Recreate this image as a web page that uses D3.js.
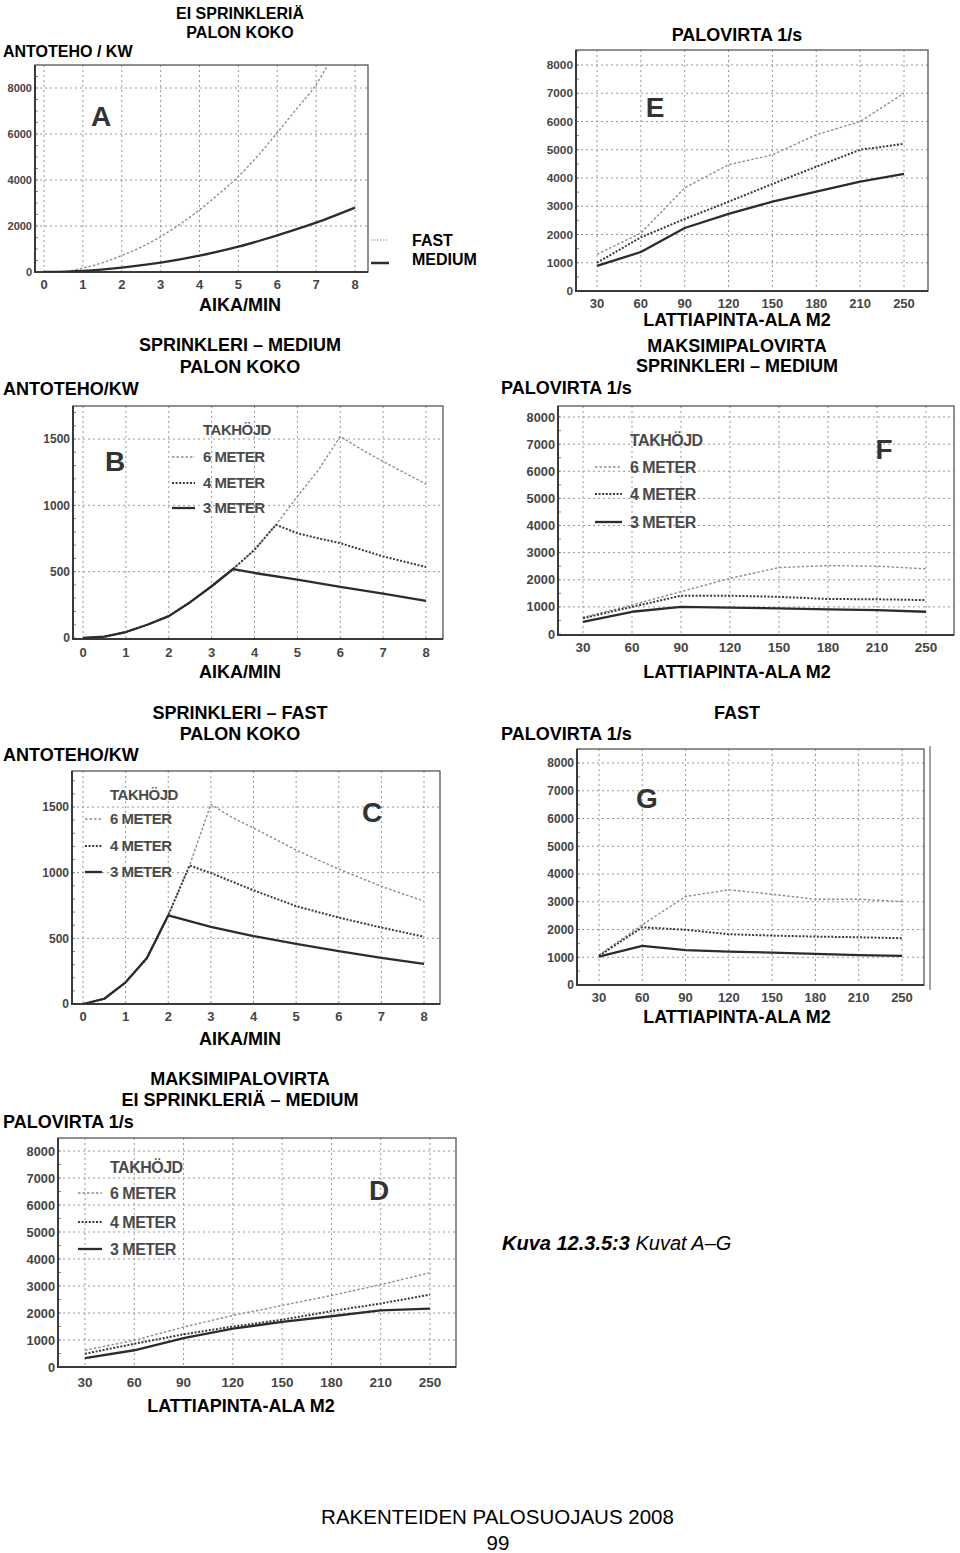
<!DOCTYPE html>
<html><head><meta charset="utf-8">
<script src="https://cdn.jsdelivr.net/npm/d3@7/dist/d3.min.js"></script>
<style>
body{margin:0;background:#fff}
svg{display:block}
text{font-family:"Liberation Sans",Arial,Helvetica,sans-serif}
</style>
</head><body>
<script>
// ---------- DATA ----------
const timeTicks = [0,1,2,3,4,5,6,7,8];
const areaCats  = ["30","60","90","120","150","180","210","250"];
const kwTicksA  = [0,2000,4000,6000,8000];
const kwTicksBC = [0,500,1000,1500];
const flowTicks = [0,1000,2000,3000,4000,5000,6000,7000,8000];
const legendTitle = "TAKHÖJD";
const legendLabels = ["6 METER","4 METER","3 METER"];

// A: ei sprinkleriä, palon koko (kW) vs time (min)
const aFastTime = [0,0.5,1,1.5,2,2.5,3,3.5,4,4.5,5,5.5,6,6.5,7,7.3];
const aFastKW   = [0,15,170,400,720,1080,1540,2080,2700,3400,4150,5050,6060,7100,8150,9000];
const aMedTime  = [0,1,2,3,4,5,6,7,8];
const aMedKW    = [0,50,190,405,710,1100,1595,2145,2800];

// B: sprinkleri – medium
const b6Time = [0,0.5,1,1.5,2,2.5,3,3.5,4,4.5,5,5.5,6,6.5,7,7.5,8];
const b6KW   = [0,10,45,100,165,270,390,520,665,853,1067,1270,1520,1420,1330,1245,1160];
const b4Time = [0,0.5,1,1.5,2,2.5,3,3.5,4,4.5,5,5.5,6,7,8];
const b4KW   = [0,10,45,100,165,270,390,520,665,853,790,750,715,615,535];
const b3Time = [0,0.5,1,1.5,2,2.5,3,3.5,4,5,6,7,8];
const b3KW   = [0,10,45,100,165,270,390,520,490,440,385,335,280];

// C: sprinkleri – fast
const c6Time = [0,0.5,1,1.5,2,2.5,3,3.5,4,5,6,7,8];
const c6KW   = [0,40,165,350,675,1055,1520,1420,1340,1172,1027,896,783];
const c4Time = [0,0.5,1,1.5,2,2.5,3,4,5,6,7,8];
const c4KW   = [0,40,165,350,675,1055,997,866,745,658,582,512];
const c3Time = [0,0.5,1,1.5,2,3,4,5,6,7,8];
const c3KW   = [0,40,165,350,675,587,517,457,402,351,306];

// E: palovirta, ei sprinkleriä (l/s) per floor area
const e6Flow = [1300,2050,3650,4470,4820,5530,6000,7000];
const e4Flow = [1000,1900,2550,3160,3790,4400,5000,5210];
const e3Flow = [890,1380,2230,2730,3160,3520,3870,4150];

// F: maksimipalovirta, sprinkleri – medium
const f6Flow = [610,1070,1560,2050,2450,2520,2500,2400];
const f4Flow = [580,1000,1410,1410,1370,1290,1280,1250];
const f3Flow = [450,820,1000,970,945,910,880,820];

// G: fast
const g6Flow = [1080,2170,3190,3430,3270,3090,3090,3010];
const g4Flow = [1050,2080,1990,1830,1780,1745,1720,1685];
const g3Flow = [1020,1410,1260,1200,1170,1120,1080,1050];

// D: maksimipalovirta, ei sprinkleriä – medium
const d6Flow = [620,990,1480,1910,2280,2650,3050,3490];
const d4Flow = [490,860,1210,1500,1750,2070,2350,2680];
const d3Flow = [330,620,1070,1420,1670,1880,2100,2160];

// ---------- STYLES ----------
const ST = {
  light:  {stroke:"#8c8c8c", width:1.4, dash:"2.5,2"},
  dotted: {stroke:"#3a3a3a", width:2.0, dash:"2,1.6"},
  solid:  {stroke:"#2c2c2c", width:2.3, dash:null}
};
const TICKFONT = '"DejaVu Sans",Verdana,sans-serif';

const W = 960, H = 1553;
const svg = d3.select("body").append("svg").attr("width",W).attr("height",H);
const defs = svg.append("defs");

function txt(x, cy, s, size, opt={}) {
  const t = svg.append("text")
    .attr("x", x).attr("y", cy + 0.358*size)
    .attr("font-size", size)
    .attr("font-weight", opt.weight || "bold")
    .attr("text-anchor", opt.anchor || "start")
    .attr("fill", opt.fill || "#000");
  if (opt.style) t.attr("font-style", opt.style);
  if (opt.ls) t.attr("letter-spacing", opt.ls);
  t.text(s);
  return t;
}

function panel(o) {
  const g = svg.append("g");
  const f = o.frame, x = o.x, y = o.y;
  // grid
  g.selectAll(null).data(o.xTicks).join("line")
    .attr("x1", d=>x(d)).attr("x2", d=>x(d))
    .attr("y1", f.y0).attr("y2", f.y1)
    .attr("stroke","#8a8a8a").attr("stroke-width",0.9).attr("stroke-dasharray","2,3");
  g.selectAll(null).data(o.yTicks.filter(d=>d>0)).join("line")
    .attr("y1", d=>y(d)).attr("y2", d=>y(d))
    .attr("x1", f.x0).attr("x2", f.x1)
    .attr("stroke","#8a8a8a").attr("stroke-width",0.9).attr("stroke-dasharray","2,3");
  // minor ticks on the value axis
  const yMax = y.invert(f.y0);
  g.selectAll(null).data(d3.range(0, yMax, o.minor)).join("line")
    .attr("x1", f.x0).attr("x2", f.x0+3)
    .attr("y1", d=>y(d)).attr("y2", d=>y(d))
    .attr("stroke","#777").attr("stroke-width",0.9);
  // frame
  g.append("rect").attr("x",f.x0).attr("y",f.y0)
    .attr("width",f.x1-f.x0).attr("height",f.y1-f.y0)
    .attr("fill","none").attr("stroke","#555").attr("stroke-width",1.3);
  g.append("path").attr("d",`M${f.x0},${f.y0}V${f.y1}H${f.x1}`)
    .attr("fill","none").attr("stroke","#3a3a3a").attr("stroke-width",2);
  // tick labels
  g.selectAll(null).data(o.yTicks).join("text")
    .attr("x", f.x0-3).attr("y", d=>y(d)).attr("dy","0.36em")
    .attr("text-anchor","end").attr("font-size",o.fy).attr("font-weight","bold")
    .attr("font-family",TICKFONT).attr("fill","#454545")
    .text(d=>d);
  g.selectAll(null).data(o.xTicks).join("text")
    .attr("x", d=>x(d)).attr("y", f.y1 + (o.xLabelOff||12)).attr("dy","0.36em")
    .attr("text-anchor","middle").attr("font-size",o.fx).attr("font-weight","bold")
    .attr("font-family",TICKFONT).attr("fill","#454545")
    .text(d=>d);
  // series
  const cid = "clip-" + o.name;
  defs.append("clipPath").attr("id",cid).append("rect")
    .attr("x",f.x0).attr("y",f.y0).attr("width",f.x1-f.x0).attr("height",f.y1-f.y0);
  const lg = g.append("g").attr("clip-path",`url(#${cid})`);
  o.series.forEach(s=>{
    const pts = d3.zip(s.xs, s.ys);
    const line = d3.line().x(d=>x(d[0])).y(d=>y(d[1])).curve(s.curve || d3.curveLinear);
    lg.append("path").datum(pts).attr("d",line)
      .attr("fill","none").attr("stroke",s.st.stroke).attr("stroke-width",s.st.width)
      .attr("stroke-dasharray",s.st.dash).attr("stroke-linejoin","round");
  });
  // letter
  txt(o.letter.x, o.letter.cy, o.letter.t, 28, {anchor:"middle", fill:"#333"});
  // legend
  if (o.legend) {
    const L = o.legend, fs = L.fs || 15;
    txt(L.tx, L.cys[0], legendTitle, fs, {fill:"#4a4a4a", ls:"-0.5"});
    [ST.light, ST.dotted, ST.solid].forEach((st,i)=>{
      const cy = L.cys[i+1];
      g.append("line").attr("x1",L.lx0).attr("x2",L.lx1).attr("y1",cy).attr("y2",cy)
        .attr("stroke",st.stroke).attr("stroke-width",st.width).attr("stroke-dasharray",st.dash);
      txt(L.tx, cy, legendLabels[i], fs, {fill:"#4a4a4a", ls:"-0.5"});
    });
  }
}

const cats = areaCats;

// ---------- PANEL A ----------
panel({
  name:"A", fy:11, fx:13, minor:500,
  frame:{x0:35,y0:65,x1:368,y1:272},
  x: d3.scaleLinear().domain([0,8]).range([44,355]),
  y: d3.scaleLinear().domain([0,8000]).range([272,88]),
  xTicks: timeTicks, yTicks: kwTicksA,
  series:[
    {xs:aFastTime, ys:aFastKW, st:ST.light, curve:d3.curveMonotoneX},
    {xs:aMedTime, ys:aMedKW, st:ST.solid, curve:d3.curveMonotoneX}
  ],
  letter:{t:"A", x:101, cy:116}
});
txt(240,13,"EI SPRINKLERIÄ",16,{anchor:"middle"});
txt(240,32,"PALON KOKO",16,{anchor:"middle"});
txt(3,51,"ANTOTEHO / KW",16);
txt(240,305,"AIKA/MIN",18,{anchor:"middle"});
svg.append("line").attr("x1",371).attr("x2",389).attr("y1",240).attr("y2",240)
  .attr("stroke",ST.light.stroke).attr("stroke-width",1.2).attr("stroke-dasharray","1.5,1.5");
svg.append("line").attr("x1",371).attr("x2",389).attr("y1",263).attr("y2",263)
  .attr("stroke",ST.solid.stroke).attr("stroke-width",2.5);
txt(412,240,"FAST",16);
txt(412,259,"MEDIUM",16);

// ---------- PANEL E ----------
panel({
  name:"E", fy:11.8, fx:13, minor:500,
  frame:{x0:576,y0:50,x1:928,y1:291},
  x: d3.scalePoint().domain(cats).range([597,904]),
  y: d3.scaleLinear().domain([0,8000]).range([291,65]),
  xTicks: cats, yTicks: flowTicks,
  series:[
    {xs:cats, ys:e6Flow, st:ST.light},
    {xs:cats, ys:e4Flow, st:ST.dotted},
    {xs:cats, ys:e3Flow, st:ST.solid}
  ],
  letter:{t:"E", x:655, cy:107}
});
txt(737,35,"PALOVIRTA 1/s",18,{anchor:"middle"});
txt(737,320,"LATTIAPINTA-ALA M2",18,{anchor:"middle"});

// ---------- PANEL B ----------
panel({
  name:"B", fy:12, fx:13, minor:100,
  frame:{x0:73,y0:406,x1:443,y1:639},
  x: d3.scaleLinear().domain([0,8]).range([83,426]),
  y: d3.scaleLinear().domain([0,1500]).range([638,439]),
  xTicks: timeTicks, yTicks: kwTicksBC,
  xLabelOff: 13,
  series:[
    {xs:b6Time, ys:b6KW, st:ST.light},
    {xs:b4Time, ys:b4KW, st:ST.dotted},
    {xs:b3Time, ys:b3KW, st:ST.solid}
  ],
  letter:{t:"B", x:115, cy:461},
  legend:{tx:203, lx0:172, lx1:195, cys:[430,457,483,508], fs:15}
});
txt(240,345,"SPRINKLERI – MEDIUM",18,{anchor:"middle"});
txt(240,367,"PALON KOKO",18,{anchor:"middle"});
txt(3,389,"ANTOTEHO/KW",18);
txt(240,672,"AIKA/MIN",18,{anchor:"middle"});

// ---------- PANEL F ----------
panel({
  name:"F", fy:12.8, fx:13.5, minor:500,
  frame:{x0:558,y0:406,x1:954,y1:635},
  x: d3.scalePoint().domain(cats).range([583,926]),
  y: d3.scaleLinear().domain([0,8000]).range([634,417]),
  xTicks: cats, yTicks: flowTicks,
  series:[
    {xs:cats, ys:f6Flow, st:ST.light},
    {xs:cats, ys:f4Flow, st:ST.dotted},
    {xs:cats, ys:f3Flow, st:ST.solid}
  ],
  letter:{t:"F", x:884, cy:449},
  legend:{tx:630, lx0:595, lx1:622, cys:[440,467,494,522], fs:16}
});
txt(737,346,"MAKSIMIPALOVIRTA",18,{anchor:"middle"});
txt(737,366,"SPRINKLERI – MEDIUM",18,{anchor:"middle"});
txt(501,388,"PALOVIRTA 1/s",18);
txt(737,672,"LATTIAPINTA-ALA M2",18,{anchor:"middle"});

// ---------- PANEL C ----------
panel({
  name:"C", fy:12, fx:13, minor:100,
  frame:{x0:72,y0:771,x1:440,y1:1004},
  x: d3.scaleLinear().domain([0,8]).range([83,424]),
  y: d3.scaleLinear().domain([0,1500]).range([1004,807]),
  xTicks: timeTicks, yTicks: kwTicksBC,
  series:[
    {xs:c6Time, ys:c6KW, st:ST.light},
    {xs:c4Time, ys:c4KW, st:ST.dotted},
    {xs:c3Time, ys:c3KW, st:ST.solid}
  ],
  letter:{t:"C", x:372, cy:812},
  legend:{tx:110, lx0:85, lx1:102, cys:[795,819,846,872], fs:15}
});
txt(240,713,"SPRINKLERI – FAST",18,{anchor:"middle"});
txt(240,734,"PALON KOKO",18,{anchor:"middle"});
txt(3,755,"ANTOTEHO/KW",18);
txt(240,1039,"AIKA/MIN",18,{anchor:"middle"});

// ---------- PANEL G ----------
panel({
  name:"G", fy:12, fx:13, minor:500,
  frame:{x0:577,y0:749,x1:924,y1:985},
  x: d3.scalePoint().domain(cats).range([599,902]),
  y: d3.scaleLinear().domain([0,8000]).range([985,763]),
  xTicks: cats, yTicks: flowTicks,
  series:[
    {xs:cats, ys:g6Flow, st:ST.light},
    {xs:cats, ys:g4Flow, st:ST.dotted},
    {xs:cats, ys:g3Flow, st:ST.solid}
  ],
  letter:{t:"G", x:647, cy:798}
});
svg.append("line").attr("x1",930).attr("x2",930).attr("y1",746).attr("y2",990)
  .attr("stroke","#666").attr("stroke-width",1.2);
txt(737,713,"FAST",18,{anchor:"middle"});
txt(501,734,"PALOVIRTA 1/s",18);
txt(737,1017,"LATTIAPINTA-ALA M2",18,{anchor:"middle"});

// ---------- PANEL D ----------
panel({
  name:"D", fy:12.8, fx:13.5, minor:500,
  frame:{x0:58,y0:1138,x1:456,y1:1367},
  x: d3.scalePoint().domain(cats).range([85,430]),
  y: d3.scaleLinear().domain([0,8000]).range([1367,1151]),
  xTicks: cats, yTicks: flowTicks,
  xLabelOff: 15,
  series:[
    {xs:cats, ys:d6Flow, st:ST.light},
    {xs:cats, ys:d4Flow, st:ST.dotted},
    {xs:cats, ys:d3Flow, st:ST.solid}
  ],
  letter:{t:"D", x:379, cy:1190},
  legend:{tx:110, lx0:78, lx1:102, cys:[1167,1193,1222,1249], fs:16}
});
txt(240,1079,"MAKSIMIPALOVIRTA",18,{anchor:"middle"});
txt(240,1100,"EI SPRINKLERIÄ – MEDIUM",18,{anchor:"middle"});
txt(3,1122,"PALOVIRTA 1/s",18);
txt(241,1406,"LATTIAPINTA-ALA M2",18,{anchor:"middle"});

// ---------- CAPTION / FOOTER ----------
const cap = svg.append("text").attr("x",502).attr("y",1242.5+0.358*20).attr("font-size",20);
cap.append("tspan").attr("font-weight","bold").attr("font-style","italic").text("Kuva 12.3.5:3");
cap.append("tspan").attr("font-style","italic").text(" Kuvat A–G");
txt(497.5,1517,"RAKENTEIDEN PALOSUOJAUS 2008",20.5,{anchor:"middle", weight:"normal"});
txt(498,1543,"99",20.5,{anchor:"middle", weight:"normal"});
</script>
</body></html>
